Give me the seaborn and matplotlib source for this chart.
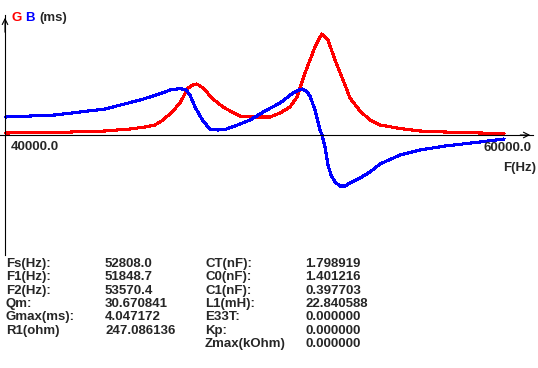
import matplotlib
matplotlib.use("Agg")
import matplotlib.pyplot as plt
import seaborn as sns

sns.set_style("white")
plt.rcParams['font.family'] = ['Liberation Sans', 'DejaVu Sans']

# sweep data (Hz, mS)
freq_g = [40040, 42000, 44000, 45000, 45600, 46000, 46320, 46680, 47000, 47320,
          47520, 47680, 47920, 48320, 48720, 49080, 49400, 49800, 50200, 50600,
          51000, 51400, 51680, 52000, 52200, 52400, 52600, 52680, 52920, 53200,
          53600, 53800, 54200, 54600, 55000, 55800, 56600, 57600, 59000, 59960]
g_ms = [0.08, 0.10, 0.16, 0.24, 0.32, 0.40, 0.60, 0.92, 1.28, 1.88,
        2.00, 2.04, 1.88, 1.44, 1.12, 0.92, 0.76, 0.72, 0.72, 0.72,
        0.88, 1.12, 1.52, 2.48, 3.00, 3.52, 3.92, 4.04, 3.80, 3.00,
        2.00, 1.48, 0.96, 0.60, 0.40, 0.26, 0.16, 0.12, 0.08, 0.06]

freq_b = [40040, 42000, 44000, 45400, 45800, 46400, 46600, 47000, 47240, 47400,
          47600, 47920, 48200, 48520, 48800, 49200, 49800, 50400, 51000, 51520,
          51800, 51920, 52080, 52200, 52400, 52600, 52680, 52800, 52920, 53040,
          53200, 53400, 53600, 53800, 54200, 54600, 55000, 55800, 56600, 57600,
          59000, 59960]
b_ms = [0.72, 0.80, 1.04, 1.40, 1.52, 1.72, 1.80, 1.86, 1.80, 1.60,
        1.12, 0.56, 0.24, 0.20, 0.22, 0.36, 0.60, 0.96, 1.28, 1.68,
        1.82, 1.84, 1.72, 1.56, 1.00, 0.20, 0.00, -0.48, -1.20, -1.60,
        -1.88, -2.04, -2.04, -1.92, -1.72, -1.48, -1.16, -0.80, -0.60, -0.44,
        -0.28, -0.16]

x_ticks = [44000, 48000, 52000, 56000, 60000]
y_ticks = [-4, 4]

left_labels = ["Fs(Hz):", "F1(Hz):", "F2(Hz):", "Qm:", "Gmax(ms):", "R1(ohm)"]
left_values = ["52808.0", "51848.7", "53570.4", "30.670841", "4.047172", "247.086136"]
right_labels = ["CT(nF):", "C0(nF):", "C1(nF):", "L1(mH):", "E33T:", "Kp:", "Zmax(kOhm)"]
right_values = ["1.798919", "1.401216", "0.397703", "22.840588", "0.000000",
                "0.000000", "0.000000"]

W, H = 538, 368
fig = plt.figure(figsize=(W / 100, H / 100), dpi=100)
ax = fig.add_axes([0, 0, 1, 1])
ax.set_xlim(39800, 61320)
ax.set_ylim(-9.32, 5.4)

sns.lineplot(x=freq_g, y=g_ms, color='#ff0000', lw=1.5, ax=ax, antialiased=False)
sns.lineplot(x=freq_b, y=b_ms, color='#0000ff', lw=1.5, ax=ax, antialiased=False)

# axes drawn through the origin like the instrument display
ax.spines['top'].set_visible(False)
ax.spines['right'].set_visible(False)
ax.spines['left'].set_position(('data', 40000))
ax.spines['bottom'].set_position(('data', 0))
ax.spines['left'].set_bounds(-4.8, 4.8)
ax.spines['bottom'].set_bounds(39800, 61120)
for s in ['left', 'bottom']:
    ax.spines[s].set_linewidth(0.8)
    ax.spines[s].set_color('black')
ax.set_xticks(x_ticks)
ax.set_yticks(y_ticks)
ax.tick_params(direction='in', length=5, width=0.8, labelbottom=False, labelleft=False)

arrow = dict(arrowstyle='->', lw=0.8, color='black', mutation_scale=10)
ax.annotate('', xy=(40000, 4.8), xytext=(40000, 4.0), arrowprops=arrow)
ax.annotate('', xy=(61120, 0), xytext=(60500, 0), arrowprops=arrow)


def txt(x, y, s, **kw):
    fig.text(x / W, 1 - y / H, s, va='center', fontsize=9.5, fontweight='bold', **kw)


txt(11, 18, "G", color='#ff0000')
txt(25, 18, "B", color='#0000ff')
txt(39, 18, "(ms)")
txt(11, 147, "40000.0")
txt(484, 148, "60000.0")
txt(503, 168, "F(Hz)")

row_y = [264, 277, 291, 304, 317, 331, 344]
for i, (lab, val) in enumerate(zip(left_labels, left_values)):
    txt(6, row_y[i], lab)
    txt(105, row_y[i], val)
for i, (lab, val) in enumerate(zip(right_labels, right_values)):
    txt(205, row_y[i], lab)
    txt(305, row_y[i], val)

fig.savefig("out.png", dpi=100, facecolor='white')
